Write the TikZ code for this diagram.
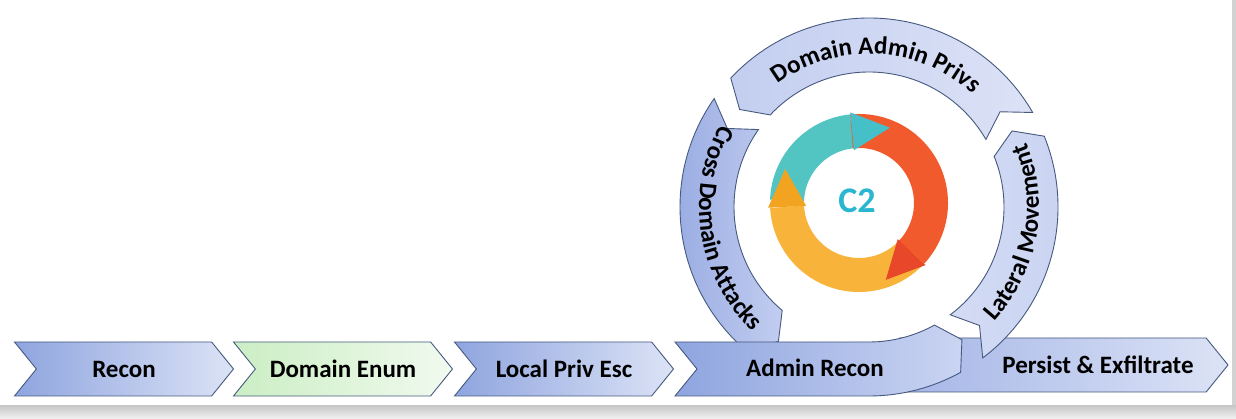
\documentclass[tikz,border=0pt]{standalone}
\usepackage{fontspec}
\setsansfont{Carlito}
\usetikzlibrary{shapes.symbols,decorations.text}

\definecolor{edge}{HTML}{46597F}
\definecolor{blueL}{HTML}{8FA5DF}
\definecolor{blueR}{HTML}{DCE3F6}
\definecolor{greenL}{HTML}{CBEEC4}
\definecolor{greenR}{HTML}{F1FAEF}
\definecolor{cdaL}{HTML}{93A7E0}
\definecolor{cdaR}{HTML}{C2CDF0}
\definecolor{dapL}{HTML}{C3CEF0}
\definecolor{dapR}{HTML}{DCE2F6}
\definecolor{lmL}{HTML}{D3DBF4}
\definecolor{lmR}{HTML}{C9D3F1}
\definecolor{arR}{HTML}{CAD4F2}
\definecolor{peL}{HTML}{A5B6E7}
\definecolor{c2teal}{HTML}{52C4C2}
\definecolor{c2tealdk}{HTML}{45BFC8}
\definecolor{c2red}{HTML}{F15A2D}
\definecolor{c2reddk}{HTML}{E8472A}
\definecolor{c2orange}{HTML}{F8B43A}
\definecolor{c2orangedk}{HTML}{F2A420}
\definecolor{c2text}{HTML}{29B6D1}

\newcommand{\lblfont}{\sffamily\bfseries\fontsize{25}{30}\selectfont}
\newcommand{\Rin}{135}
\newcommand{\Rout}{189}
\newcommand{\Rmid}{162}
% bent chevron on the big ring: style, start angle, end angle
\newcommand{\ringseg}[3]{%
  \draw[#1] (#2:\Rout) arc[start angle=#2, end angle=#3, radius=\Rout]
    -- ({#3+6}:\Rmid) -- (#3:\Rin)
    arc[start angle=#3, end angle=#2, radius=\Rin]
    -- ({#2+6}:\Rmid) -- cycle;}

\begin{document}
\begin{tikzpicture}[x=1pt, y=1pt,
    chev/.style={signal, signal from=west, signal to=east, signal pointer angle=102,
      draw=edge, line width=0.9pt, minimum width=219, minimum height=54, inner sep=0,
      left color=blueL, right color=blueR, font=\lblfont},
    band/.style={draw=edge, line width=0.9pt},
    lbl/.style={font=\lblfont, text=black}]
  \useasboundingbox (0,0) rectangle (1236,419);
  % frame shadow
  \fill[gray!22] (0,0) rectangle (1236,419);
  \shade[top color=gray!45, bottom color=gray!10] (0,0) rectangle (1236,14);
  \fill[gray!35] (1232,14) rectangle (1236,419);
  \fill[white] (0,14) rectangle (1232,419);

  \coordinate (hub) at (869,212);
  \coordinate (c2hub) at (859,216);

  % straight steps
  \node[chev] (recon) at (124,50) {Recon};
  \node[chev, left color=greenL, right color=greenR] (enum) at (343,50) {Domain Enum};
  \node[chev] (privesc) at (564,50) {Local Priv Esc};
  \node[chev, minimum width=328, left color=peL] (persist) at (1064,54) {};
  \node[lbl] (persisttxt) at (1098,54) {Persist \& Exfiltrate};

  % the loop
  \begin{scope}[shift={(hub)}]
    \ringseg{band, left color=lmL, right color=lmR}{307}{382}
    \ringseg{band, left color=dapL, right color=dapR}{30}{137}
    \ringseg{band, left color=cdaL, right color=cdaR}{145}{230}
    \draw[band, left color=blueL, right color=arR] (-194,-\Rin) -- (270:\Rin)
      arc[start angle=270, end angle=299, radius=\Rin] -- (305:\Rmid) -- (299:\Rout)
      arc[start angle=299, end angle=270, radius=\Rout] -- (-194,-\Rout) -- (-172,-\Rmid) -- cycle;
    \path[decorate, decoration={text along path, text align=center,
        text={|\lblfont|Domain Admin Privs}}]
      (147:153) arc[start angle=147, end angle=27, radius=153];
    \path[decorate, decoration={text along path, text align=center,
        text={|\lblfont|Cross Domain Attacks}}]
      (129:170) arc[start angle=129, end angle=249, radius=170];
    \path[decorate, decoration={text along path, text align=center,
        text={|\lblfont|Lateral Movement}}]
      (-70:170) arc[start angle=-70, end angle=50, radius=170];
  \end{scope}
  \node[lbl] (adminrecon) at (815,51) {Admin Recon};

  % C2 cycle
  \begin{scope}[shift={(c2hub)}]
    \draw[c2orange, line width=34] (-40:72) arc[start angle=-40, end angle=-177, radius=72];
    \draw[c2teal, line width=34] (178:72) arc[start angle=178, end angle=95.5, radius=72];
    \draw[c2red, line width=34] (96:72) arc[start angle=96, end angle=-43, radius=72];
    \fill[c2tealdk] (95.5:53) -- (95.5:91) -- (67.7:81.4) -- cycle;
    \fill[c2reddk] (-43:53) -- (-43:91) -- (-70.8:81.4) -- cycle;
    \fill[c2orangedk] (183:53) -- (183:91) -- (155.2:81.4) -- cycle;
  \end{scope}
  \node[font=\sffamily\bfseries\fontsize{36}{40}\selectfont, text=c2text] (ctwo) at (857,218) {C2};
\end{tikzpicture}
\end{document}
